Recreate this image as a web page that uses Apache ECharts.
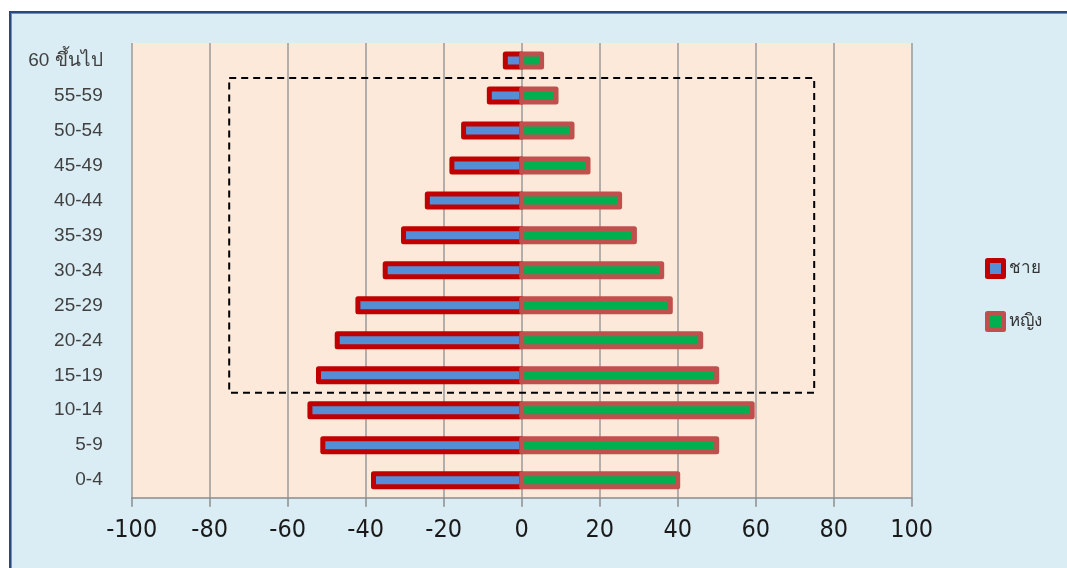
<!DOCTYPE html>
<html>
<head>
<meta charset="utf-8">
<script src="https://cdn.jsdelivr.net/npm/echarts@6/dist/echarts.min.js"></script>
<style>
  html, body { margin: 0; padding: 0; background: #ffffff; }
  #wrap { position: relative; width: 1067px; height: 568px; overflow: hidden; }
  #frame {
    position: absolute; left: 9px; top: 11px; width: 1100px; height: 600px;
    background: #dbedf4;
    border-left: 2px solid #244a7e; border-top: 2px solid #244a7e;
    box-shadow: inset 1px 1px 0 #6a92c2;
  }
  #chart { position: absolute; left: 0; top: 0; width: 1067px; height: 568px; }
</style>
</head>
<body>
<div id="wrap">
  <div id="frame"></div>
  <div id="chart"></div>
</div>
<script>
// Age groups, bottom to top
const ageGroups = ['0-4', '5-9', '10-14', '15-19', '20-24', '25-29', '30-34',
  '35-39', '40-44', '45-49', '50-54', '55-59', '60 ขึ้นไป'];
// Male values are plotted to the left of zero
const maleValues = [38.0, 51.0, 54.3, 52.1, 47.3, 42.0, 35.0, 30.3, 24.2, 17.9, 14.9, 8.3, 4.2];
const femaleValues = [40.0, 50.0, 59.1, 50.0, 45.9, 38.1, 35.9, 28.9, 25.1, 17.0, 12.9, 8.8, 5.1];
const xTicks = [-100, -80, -60, -40, -20, 0, 20, 40, 60, 80, 100];
const seriesNames = ['ชาย', 'หญิง'];
// Highlighted working-age block
const boxRange = [-75, 75];
const boxGroups = ['15-19', '55-59'];

const maleStyle = { color: '#558ed5', borderColor: '#c00000', borderWidth: 5, borderJoin: 'round' };
const femaleStyle = { color: '#00b050', borderColor: '#c0504d', borderWidth: 5, borderJoin: 'round' };
const BAR_HEIGHT = 13;

// Bars drawn from zero to the value, with the outline centred on the bar edge
function barRenderer(style) {
  return function (params, api) {
    const v = api.value(0);
    const cat = api.value(1);
    const a = api.coord([0, cat]);
    const b = api.coord([v, cat]);
    return {
      type: 'rect',
      shape: {
        x: Math.min(a[0], b[0]), y: a[1] - BAR_HEIGHT / 2,
        width: Math.abs(b[0] - a[0]), height: BAR_HEIGHT
      },
      style: {
        fill: style.color, stroke: style.borderColor,
        lineWidth: style.borderWidth, lineJoin: 'round'
      }
    };
  };
}

const chart = echarts.init(document.getElementById('chart'), null, { renderer: 'canvas' });
chart.setOption({
  animation: false,
  backgroundColor: 'transparent',
  grid: {
    left: 131.7, right: 155.3, top: 43, bottom: 70.3,
    show: true, backgroundColor: '#fde9d9', borderWidth: 0
  },
  legend: {
    orient: 'vertical', left: 980, top: 253,
    itemWidth: 16, itemHeight: 16, itemGap: 32,
    icon: 'rect',
    textStyle: { fontFamily: 'Liberation Sans, Noto Sans, sans-serif', fontSize: 17, color: '#333333', padding: [0, 0, 0, 0] },
    data: [
      { name: seriesNames[0], itemStyle: maleStyle },
      { name: seriesNames[1], itemStyle: femaleStyle }
    ]
  },
  xAxis: {
    type: 'value', min: xTicks[0], max: xTicks[xTicks.length - 1], interval: 20,
    axisLine: { show: true, onZero: false, lineStyle: { color: '#8c8c8c', width: 1.5 } },
    axisTick: { show: true, length: 9, lineStyle: { color: '#8c8c8c', width: 1.5 } },
    axisLabel: {
      margin: 20, fontSize: 25, color: '#1a1a1a',
      fontFamily: 'Liberation Sans Narrow, DejaVu Sans Condensed, sans-serif'
    },
    splitLine: { show: true, lineStyle: { color: '#9a9a9a', width: 1.5 } }
  },
  yAxis: {
    type: 'category', data: ageGroups,
    axisLine: { show: false }, axisTick: { show: false },
    axisLabel: { margin: 29, fontSize: 19, color: '#404040', fontFamily: 'Liberation Sans, Noto Sans, sans-serif' },
    splitLine: { show: false }
  },
  series: [
    {
      name: seriesNames[0], type: 'custom', renderItem: barRenderer(maleStyle),
      itemStyle: maleStyle, encode: { x: 0, y: 1 },
      data: maleValues.map((v, i) => [-v, i])
    },
    {
      name: seriesNames[1], type: 'custom', renderItem: barRenderer(femaleStyle),
      itemStyle: femaleStyle, encode: { x: 0, y: 1 },
      data: femaleValues.map((v, i) => [v, i])
    }
  ]
});

// Dashed outline around the selected age groups, placed through the axes
const lowPt = chart.convertToPixel({ gridIndex: 0 }, [boxRange[0], boxGroups[0]]);
const highPt = chart.convertToPixel({ gridIndex: 0 }, [boxRange[1], boxGroups[1]]);
const nextPt = chart.convertToPixel({ gridIndex: 0 }, [0, ageGroups[ageGroups.indexOf(boxGroups[0]) + 1]]);
const band = Math.abs(lowPt[1] - nextPt[1]);
chart.setOption({
  graphic: [{
    type: 'rect', z: 100,
    shape: {
      x: lowPt[0], y: highPt[1] - band / 2,
      width: highPt[0] - lowPt[0], height: (lowPt[1] - highPt[1]) + band
    },
    style: { fill: null, stroke: '#000000', lineWidth: 2, lineDash: [7, 5] }
  }]
});
</script>
</body>
</html>
